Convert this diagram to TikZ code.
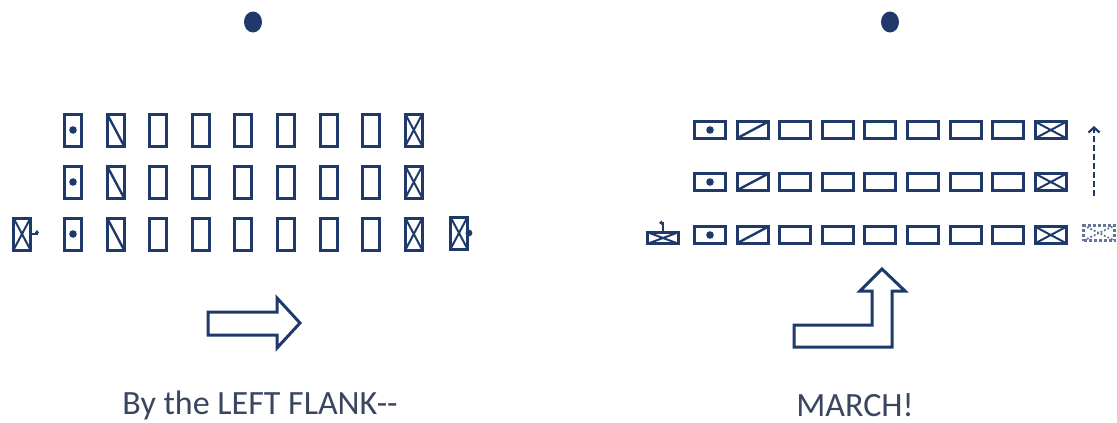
\documentclass[tikz,border=0pt]{standalone}
\usepackage{fontspec}
\setmainfont{Carlito}
\usepackage{tikz}
\usetikzlibrary{arrows.meta,
positioning,
shapes.geometric,
calc}

\definecolor{troop}{HTML}{1F3A6A}
\definecolor{command}{HTML}{3A4660}

\tikzset{
  soldier/.style={draw=troop, line width=3pt, inner sep=0pt,
    minimum width=17pt, minimum height=32pt},
  squad/.style={draw=troop, line width=3pt, inner sep=0pt,
    minimum width=31pt, minimum height=16.5pt},
  plain/.style={},
  guide/.style={path picture={
    \fill[troop] (path picture bounding box.center) circle (3.8pt);}},
  leftdiag/.style={path picture={
    \draw[troop, line width=2.4pt] (path picture bounding box.north west)
      -- (path picture bounding box.south east);}},
  rightdiag/.style={path picture={
    \draw[troop, line width=2.4pt] (path picture bounding box.south west)
      -- (path picture bounding box.north east);}},
  crossed/.style={path picture={
    \draw[troop, line width=2pt] (path picture bounding box.north west)
      -- (path picture bounding box.south east)
      (path picture bounding box.south west)
      -- (path picture bounding box.north east);}},
  leader/.style={ellipse, fill=troop, inner sep=0pt,
    minimum width=18pt, minimum height=21pt},
  command/.style={text=command, inner sep=0pt,
    font=\fontsize{34}{40}\selectfont},
  bigarrow/.style={draw=troop, line width=3pt, line join=miter}
}

\begin{document}
\begin{tikzpicture}[x=1pt, y=-1pt]
\useasboundingbox (0,0) rectangle (1117,423);

% left: facing front
\node[leader] (chiefL) at (253,22) {};
\foreach \r/\y in {1/130,2/182,3/234} {
  \foreach \c/\m in {1/guide,2/leftdiag,3/plain,4/plain,5/plain,
                     6/plain,7/plain,8/plain,9/crossed} {
    \node[soldier, \m] (L\r-\c) at ({73+42.6*(\c-1)},\y) {};
  }
}
\node[soldier, crossed] (flankL) at (22,234) {};
\node[soldier, crossed] (flankR) at (459,233) {};
\fill[troop] (flankR.east) circle (3.4pt);
\draw[troop, line width=1.8pt, -{Triangle[length=3pt, width=4.5pt]}]
  (flankL.east) -- ++(5,0) -- ++(0,-4);

\draw[bigarrow] (208,312) -- (277,312) -- (277,298) -- (300,323)
  -- (277,348) -- (277,335) -- (208,335) -- cycle;
\node[command] (cmdL) at (260,405) {By the LEFT FLANK-{}-};

% right: faced to the left
\node[leader] (chiefR) at (890,22) {};
\foreach \r/\y in {1/130,2/182,3/235} {
  \foreach \c/\m in {1/guide,2/rightdiag,3/plain,4/plain,5/plain,
                     6/plain,7/plain,8/plain,9/crossed} {
    \node[squad, \m] (R\r-\c) at ({710+42.6*(\c-1)},\y) {};
  }
}
\node[squad, crossed, minimum height=11.5pt] (flankRL) at (663,238) {};
\draw[troop, line width=1.8pt, -{Triangle[length=3pt, width=4.5pt]}]
  (flankRL.north) -- ++(0,-8) -- ++(-4,0);
\node[squad, draw=troop!70, dotted, line width=2.2pt,
  minimum height=15pt,
  path picture={\draw[troop!70, dotted, line width=1.8pt]
    (path picture bounding box.north west)
    -- (path picture bounding box.south east)
    (path picture bounding box.south west)
    -- (path picture bounding box.north east);}] (oldpos) at (1099,233) {};
\coordinate (wheelFrom) at (1094,196);
\coordinate (wheelTo) at (1094,126);
\draw[troop, line width=2.2pt, dash pattern=on 6pt off 3pt,
  -{Straight Barb[length=5pt, width=11pt]}] (wheelFrom) -- (wheelTo);

\draw[bigarrow] (794,347) -- (892,347) -- (892,291) -- (905,291)
  -- (882,269) -- (860,291) -- (872,291) -- (872,325) -- (794,325) -- cycle;
\node[command] (cmdR) at (855,405) {MARCH!};

\end{tikzpicture}
\end{document}
